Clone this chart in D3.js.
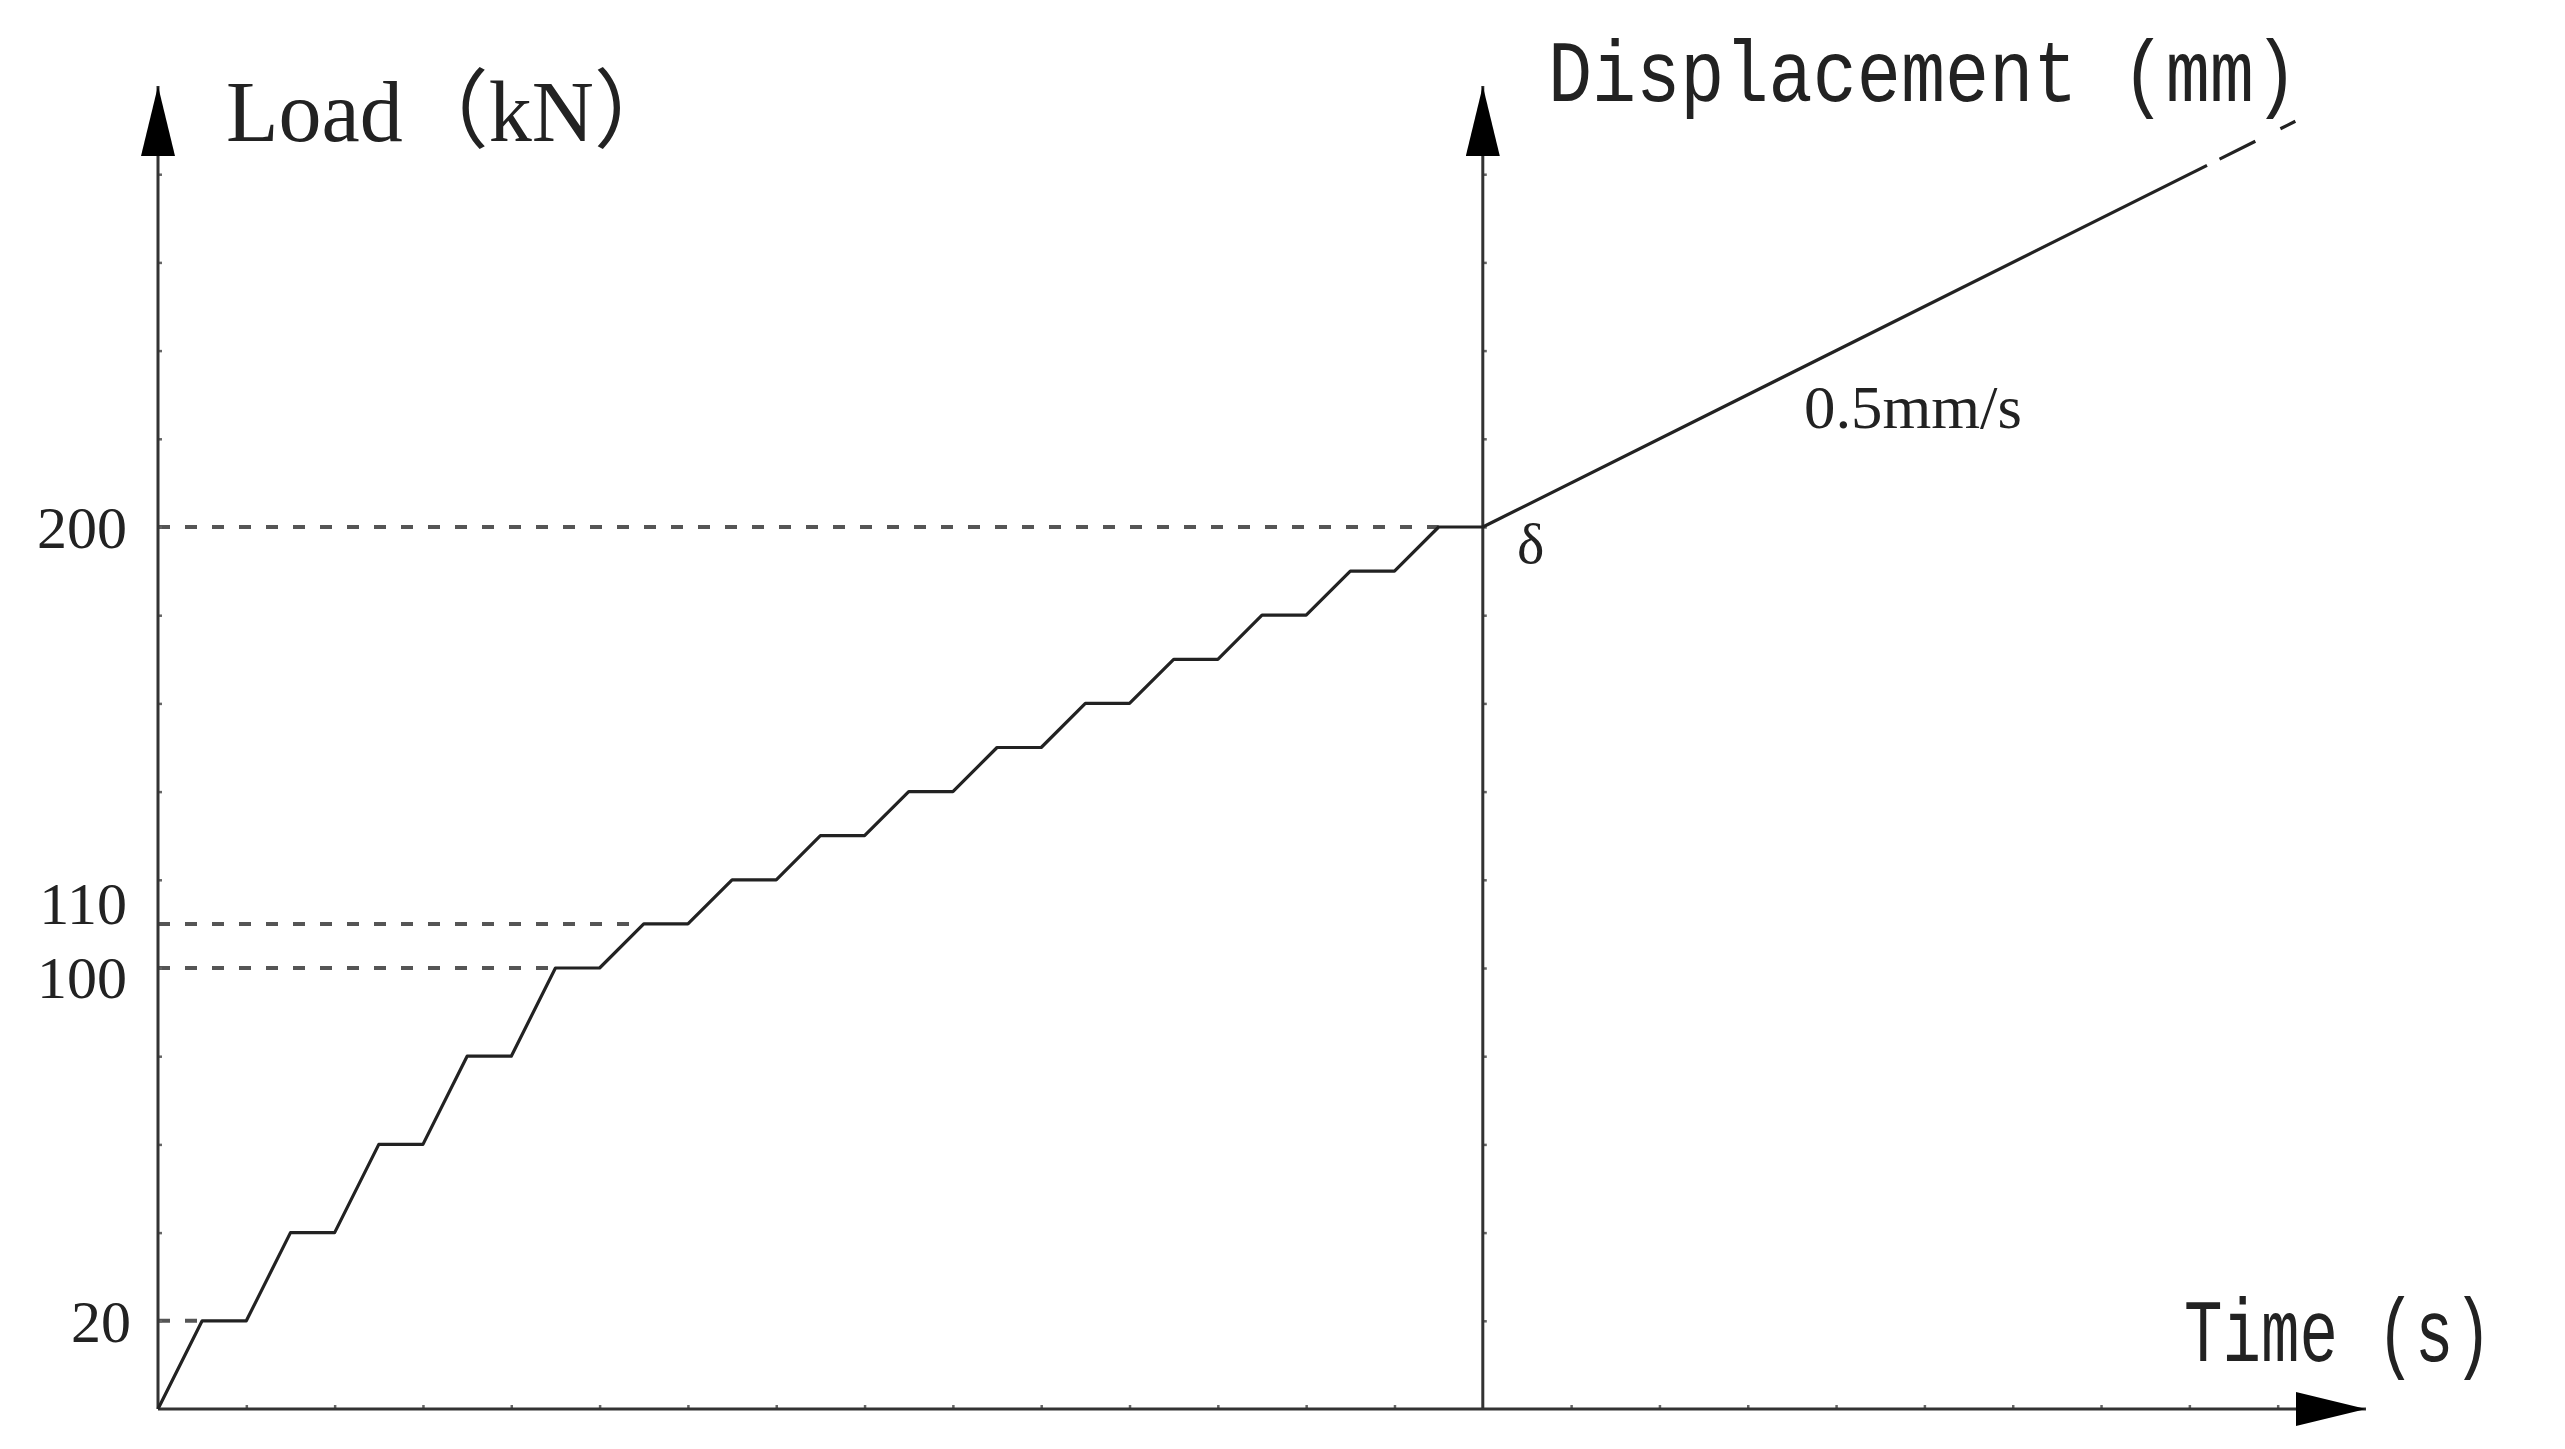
<!DOCTYPE html>
<html>
<head>
<meta charset="utf-8">
<script src="https://cdn.jsdelivr.net/npm/d3@7"></script>
<style>
  html, body { margin: 0; padding: 0; background: #fff; }
  svg { display: block; }
</style>
</head>
<body>
<div id="chart"></div>
<script>
// Loading protocol: stepped load, then displacement control

var width = 2565, height = 1449;

// load steps (time units, kN)
var loadTime = [0, 1, 2, 3, 4, 5, 6, 7, 8, 9, 10, 11, 12, 13, 14, 15, 16, 17, 18, 19, 20,
                21, 22, 23, 24, 25, 26, 27, 28, 29, 30];
var loadValue = [0, 20, 20, 40, 40, 60, 60, 80, 80, 100, 100, 110, 110, 120, 120, 130, 130,
                 140, 140, 150, 150, 160, 160, 170, 170, 180, 180, 190, 190, 200, 200];

// displacement-controlled branch, solid part then dashed continuation
var dispTime = [30, 46.4];
var dispValue = [200, 282];
var dashTime = [46.4, 48.4];
var dashValue = [282, 292];

// reference (dotted) levels and the time they reach the curve
var refLevels = [20, 100, 110, 200];
var refTime = [1, 9, 11, 29];

var yLabels = ['20', '100', '110', '200'];
var yTicks = [20, 40, 60, 80, 100, 120, 140, 160, 180, 200, 220, 240, 260, 280];
var xTicks = [2, 4, 6, 8, 10, 12, 14, 16, 18, 20, 22, 24, 26, 28, 32, 34, 36, 38, 40, 42, 44, 46, 48];

var tMax = 50, loadMax = 300, switchTime = 30;

var x = d3.scaleLinear()
    .domain([0, tMax])
    .range([158, 2366]);

var y = d3.scaleLinear()
    .domain([0, loadMax])
    .range([1409, 86]);

var ink = '#333';

const svg = d3.select('#chart')
  .append('svg')
    .attr('width', width)
    .attr('height', height)
    .attr('viewBox', [0, 0, width, height]);

svg.append('defs').append('marker')
    .attr('id', 'arrow')
    .attr('viewBox', '0 0 70 34')
    .attr('refX', 70)
    .attr('refY', 17)
    .attr('markerWidth', 70)
    .attr('markerHeight', 34)
    .attr('markerUnits', 'userSpaceOnUse')
    .attr('orient', 'auto')
  .append('path')
    .attr('d', 'M0,0 L70,17 L0,34 Z')
    .attr('fill', '#000');

// dotted reference lines
svg.append('g')
  .selectAll('line')
  .data(refLevels)
  .join('line')
    .attr('x1', x(0))
    .attr('x2', (d, i) => x(refTime[i]))
    .attr('y1', d => y(d))
    .attr('y2', d => y(d))
    .attr('stroke', '#555')
    .attr('stroke-width', 4)
    .attr('stroke-dasharray', '12,15');

// small ticks, barely visible in the original
var tickStyle = g => g
    .call(g => g.select('.domain').remove())
    .call(g => g.selectAll('.tick line').attr('stroke', '#666').attr('stroke-width', 2.5));

var leftAxis = g => g
    .attr('transform', 'translate(' + x(0) + ',0)')
    .call(d3.axisRight(y).tickValues(yTicks).tickSize(4).tickFormat(''))
    .call(tickStyle);

var midAxis = g => g
    .attr('transform', 'translate(' + x(switchTime) + ',0)')
    .call(d3.axisRight(y).tickValues(yTicks).tickSize(4).tickFormat(''))
    .call(tickStyle);

var bottomAxis = g => g
    .attr('transform', 'translate(0,' + y(0) + ')')
    .call(d3.axisTop(x).tickValues(xTicks).tickSize(4).tickFormat(''))
    .call(tickStyle);

svg.append('g').call(leftAxis);
svg.append('g').call(midAxis);
svg.append('g').call(bottomAxis);

// axis lines with arrows
var axisLines = [
  [x(0), y(0), x(0), y(loadMax)],
  [x(switchTime), y(0), x(switchTime), y(loadMax)],
  [x(0), y(0), x(tMax), y(0)]
];
svg.append('g')
  .selectAll('line')
  .data(axisLines)
  .join('line')
    .attr('x1', d => d[0])
    .attr('y1', d => d[1])
    .attr('x2', d => d[2])
    .attr('y2', d => d[3])
    .attr('stroke', ink)
    .attr('stroke-width', 3)
    .attr('marker-end', 'url(#arrow)');

var line = d3.line()
    .x(d => x(d[0]))
    .y(d => y(d[1]));

svg.append('path')
    .attr('d', line(d3.zip(loadTime, loadValue)))
    .attr('fill', 'none')
    .attr('stroke', '#222')
    .attr('stroke-width', 3.2)
    .attr('stroke-linejoin', 'round');

svg.append('path')
    .attr('d', line(d3.zip(dispTime, dispValue)))
    .attr('fill', 'none')
    .attr('stroke', '#222')
    .attr('stroke-width', 3.2);

svg.append('path')
    .attr('d', line(d3.zip(dashTime, dashValue)))
    .attr('fill', 'none')
    .attr('stroke', '#222')
    .attr('stroke-width', 3.2)
    .attr('stroke-dasharray', '0,14,40,14');

// y labels, nudged apart where 100 and 110 crowd
var labelShift = {'20': [4, 0], '100': [0, 9], '110': [0, -21], '200': [0, 0]};
svg.append('g')
    .attr('font-family', '"Liberation Serif", serif')
    .attr('font-size', 60)
    .attr('fill', '#222')
    .attr('text-anchor', 'end')
  .selectAll('text')
  .data(yLabels)
  .join('text')
    .attr('x', d => 127 + labelShift[d][0])
    .attr('y', (d, i) => y(refLevels[i]) + labelShift[d][1])
    .attr('dy', '0.35em')
    .text(d => d);

svg.append('text')
    .attr('x', 226)
    .attr('y', 141)
    .attr('font-family', '"Liberation Serif", "Noto Sans CJK SC", serif')
    .attr('font-size', 86)
    .attr('fill', '#222')
    .text('Load（kN）');

svg.append('text')
    .attr('x', 1548)
    .attr('y', 101)
    .attr('font-family', '"Liberation Mono", monospace')
    .attr('font-size', 88)
    .attr('fill', '#222')
    .attr('textLength', 750)
    .attr('lengthAdjust', 'spacingAndGlyphs')
    .text('Displacement (mm)');

svg.append('text')
    .attr('transform', 'translate(2184,1361) scale(1,1.13)')
    .attr('font-family', '"Liberation Mono", monospace')
    .attr('font-size', 78)
    .attr('fill', '#222')
    .attr('textLength', 308)
    .attr('lengthAdjust', 'spacingAndGlyphs')
    .text('Time (s)');

svg.append('text')
    .attr('x', 1804)
    .attr('y', 428)
    .attr('font-family', '"Liberation Serif", serif')
    .attr('font-size', 62)
    .attr('fill', '#222')
    .attr('textLength', 218)
    .attr('lengthAdjust', 'spacingAndGlyphs')
    .text('0.5mm/s');

svg.append('text')
    .attr('x', 1517)
    .attr('y', 563)
    .attr('font-family', '"Liberation Serif", serif')
    .attr('font-size', 58)
    .attr('fill', '#222')
    .text('δ');
</script>
</body>
</html>
